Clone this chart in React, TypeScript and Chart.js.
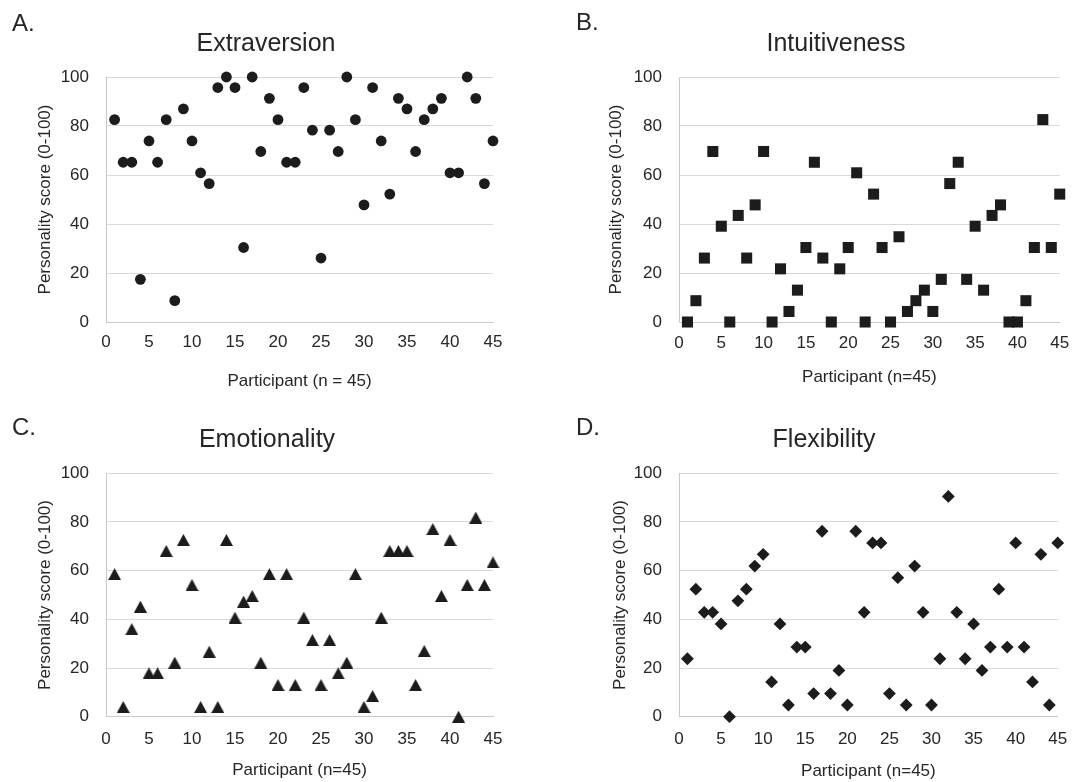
import React, { useEffect, useRef } from "react";
import { Chart, registerables } from "chart.js";

Chart.register(...registerables);

// ---------- DATA ----------
const participants = [
  1, 2, 3, 4, 5, 6, 7, 8, 9, 10, 11, 12, 13, 14, 15, 16, 17, 18, 19, 20, 21, 22,
  23, 24, 25, 26, 27, 28, 29, 30, 31, 32, 33, 34, 35, 36, 37, 38, 39, 40, 41,
  42, 43, 44, 45,
];

const extraversion = [
  82.6, 65.2, 65.2, 17.4, 73.9, 65.2, 82.6, 8.7, 87.0, 73.9, 60.9, 56.5, 95.7,
  100, 95.7, 30.4, 100, 69.6, 91.3, 82.6, 65.2, 65.2, 95.7, 78.3, 26.1, 78.3,
  69.6, 100, 82.6, 47.8, 95.7, 73.9, 52.2, 91.3, 87.0, 69.6, 82.6, 87.0, 91.3,
  60.9, 60.9, 100, 91.3, 56.5, 73.9,
];

const intuitiveness = [
  0, 8.7, 26.1, 69.6, 39.1, 0, 43.5, 26.1, 47.8, 69.6, 0, 21.7, 4.3, 13.0,
  30.4, 65.2, 26.1, 0, 21.7, 30.4, 60.9, 0, 52.2, 30.4, 0, 34.8, 4.3, 8.7,
  13.0, 4.3, 17.4, 56.5, 65.2, 17.4, 39.1, 13.0, 43.5, 47.8, 0, 0, 8.7, 30.4,
  82.6, 30.4, 52.2,
];

const emotionality = [
  58.6, 4.0, 36.0, 45.2, 17.8, 17.8, 68.1, 22.2, 72.6, 54.1, 4.0, 26.7, 4.0,
  72.6, 40.7, 47.3, 49.6, 22.2, 58.6, 13.0, 58.6, 13.0, 40.7, 31.5, 13.0, 31.5,
  17.8, 22.2, 58.6, 4.0, 8.5, 40.7, 68.1, 68.1, 68.1, 13.0, 27.0, 77.1, 49.6,
  72.6, 0, 54.1, 81.8, 54.1, 63.4,
];

const flexibility = [
  23.8, 52.4, 42.9, 42.9, 38.1, 0, 47.6, 52.4, 61.9, 66.7, 14.3, 38.1, 4.8,
  28.6, 28.6, 9.5, 76.2, 9.5, 19.0, 4.8, 76.2, 42.9, 71.4, 71.4, 9.5, 57.1, 4.8,
  61.9, 42.9, 4.8, 23.8, 90.5, 42.9, 23.8, 38.1, 19.0, 28.6, 52.4, 28.6, 71.4,
  28.6, 14.3, 66.7, 4.8, 71.4,
];

const xTicks = [0, 5, 10, 15, 20, 25, 30, 35, 40, 45];
const yTicks = [0, 20, 40, 60, 80, 100];
const yAxisTitle = "Personality score (0-100)";

// ---------- STYLE / LAYOUT ----------
const FONT = '"Liberation Sans", Arial, sans-serif';
const TEXT = "#262626";
const MARK = "#1c1c1c";
const GRID = "#d9d9d9";
const AXIS = "#c8c8c8";

function triangleImage(w: number, h: number, color: string) {
  const c = document.createElement("canvas");
  c.width = w;
  c.height = h;
  const g = c.getContext("2d")!;
  g.fillStyle = color;
  g.beginPath();
  g.moveTo(w / 2, 0);
  g.lineTo(w, h);
  g.lineTo(0, h);
  g.closePath();
  g.fill();
  return c;
}

type Panel = {
  letter: string;
  title: string;
  xTitle: string;
  values: number[];
  marker: string;
  radius: number;
  left: number;
  top: number;
  width: number;
  height: number;
  yAxisWidth: number;
  padRight: number;
  padTop: number;
  xAxisHeight: number;
  yTitlePad: number;
  xTickPad: number;
  xTitlePadBottom: number;
  letterX: number;
  letterY: number;
  titleX: number;
  titleY: number;
};

const panels: Panel[] = [
  {
    letter: "A.", title: "Extraversion", xTitle: "Participant (n = 45)",
    values: extraversion, marker: "circle", radius: 5.4,
    left: 0, top: 0, width: 540, height: 395,
    yAxisWidth: 106, padRight: 47, padTop: 77, xAxisHeight: 73,
    yTitlePad: 35, xTickPad: 10.5, xTitlePadBottom: 3.8,
    letterX: 12, letterY: 31, titleX: 266, titleY: 51,
  },
  {
    letter: "B.", title: "Intuitiveness", xTitle: "Participant (n=45)",
    values: intuitiveness, marker: "rect", radius: 7.8,
    left: 540, top: 0, width: 540, height: 395,
    yAxisWidth: 139, padRight: 13, padTop: 77, xAxisHeight: 73,
    yTitlePad: 66, xTickPad: 10.8, xTitlePadBottom: 7.8,
    letterX: 36, letterY: 30, titleX: 296, titleY: 51,
  },
  {
    letter: "C.", title: "Emotionality", xTitle: "Participant (n=45)",
    values: emotionality, marker: "triangle", radius: 7,
    left: 0, top: 395, width: 540, height: 387,
    yAxisWidth: 106, padRight: 47, padTop: 78.3, xAxisHeight: 65.3,
    yTitlePad: 35, xTickPad: 12.5, xTitlePadBottom: 1.8,
    letterX: 12, letterY: 40, titleX: 267, titleY: 52,
  },
  {
    letter: "D.", title: "Flexibility", xTitle: "Participant (n=45)",
    values: flexibility, marker: "rectRot", radius: 6.4,
    left: 540, top: 395, width: 540, height: 387,
    yAxisWidth: 139, padRight: 13, padTop: 78.3, xAxisHeight: 65.3,
    yTitlePad: 70, xTickPad: 12.8, xTitlePadBottom: 0.8,
    letterX: 36, letterY: 40, titleX: 284, titleY: 52,
  },
];

const panelText = {
  id: "panelText",
  afterDraw(chart: any, _args: any, opts: any) {
    const ctx = chart.ctx;
    ctx.save();
    ctx.fillStyle = TEXT;
    ctx.textBaseline = "alphabetic";
    ctx.font = `24px ${FONT}`;
    ctx.textAlign = "left";
    ctx.fillText(opts.letter, opts.letterX, opts.letterY);
    ctx.font = `25px ${FONT}`;
    ctx.textAlign = "center";
    ctx.fillText(opts.title, opts.titleX, opts.titleY);
    ctx.restore();
  },
};

function ScatterPanel({ p }: { p: Panel }) {
  const ref = useRef<HTMLCanvasElement | null>(null);
  useEffect(() => {
    if (!ref.current) return;
    const points = participants.map((x, i) => ({ x, y: p.values[i] }));
    const style: any =
      p.marker === "triangle" ? triangleImage(13, 12, MARK) : p.marker;
    const chart = new Chart(ref.current, {
      type: "scatter",
      data: {
        datasets: [
          {
            data: points,
            pointStyle: style,
            pointRadius: p.radius,
            pointHoverRadius: p.radius,
            pointBackgroundColor: MARK,
            pointBorderColor: MARK,
            pointBorderWidth: 0,
            clip: false as any,
          },
        ],
      },
      options: {
        responsive: false,
        animation: false,
        events: [],
        layout: {
          padding: { left: 0, right: p.padRight, top: p.padTop, bottom: 0 },
        },
        plugins: {
          legend: { display: false },
          tooltip: { enabled: false },
          title: { display: false },
          panelText: {
            letter: p.letter,
            title: p.title,
            letterX: p.letterX,
            letterY: p.letterY,
            titleX: p.titleX,
            titleY: p.titleY,
          },
        } as any,
        scales: {
          x: {
            type: "linear",
            min: xTicks[0],
            max: xTicks[xTicks.length - 1],
            afterBuildTicks: (scale: any) => {
              scale.ticks = xTicks.map((v) => ({ value: v }));
            },
            afterFit: (scale: any) => {
              scale.height = p.xAxisHeight;
            },
            grid: { display: false, drawTicks: false },
            border: { display: true, color: AXIS, width: 1 },
            ticks: {
              color: TEXT,
              padding: p.xTickPad,
              maxRotation: 0,
              autoSkip: false,
              font: { family: FONT, size: 17 },
            },
            title: {
              display: true,
              text: p.xTitle,
              color: TEXT,
              font: { family: FONT, size: 17 },
              padding: { top: 0, bottom: p.xTitlePadBottom },
            },
          },
          y: {
            type: "linear",
            min: yTicks[0],
            max: yTicks[yTicks.length - 1],
            afterBuildTicks: (scale: any) => {
              scale.ticks = yTicks.map((v) => ({ value: v }));
            },
            afterFit: (scale: any) => {
              scale.width = p.yAxisWidth;
            },
            grid: { display: true, color: GRID, lineWidth: 1, drawTicks: false },
            border: { display: true, color: AXIS, width: 1 },
            ticks: {
              color: TEXT,
              padding: 17,
              font: { family: FONT, size: 17 },
            },
            title: {
              display: true,
              text: yAxisTitle,
              color: TEXT,
              font: { family: FONT, size: 17 },
              padding: { top: p.yTitlePad, bottom: 0 },
            },
          },
        },
      },
      plugins: [panelText as any],
    });
    return () => chart.destroy();
  }, [p]);

  return (
    <div
      style={{
        position: "absolute",
        left: p.left,
        top: p.top,
        width: p.width,
        height: p.height,
      }}
    >
      <canvas
        ref={ref}
        width={p.width}
        height={p.height}
        style={{ width: p.width, height: p.height, display: "block" }}
      />
    </div>
  );
}

export default function App() {
  return (
    <div
      style={{
        position: "fixed",
        left: 0,
        top: 0,
        width: 1080,
        height: 782,
        background: "#ffffff",
        overflow: "hidden",
      }}
    >
      {panels.map((p) => (
        <ScatterPanel key={p.letter} p={p} />
      ))}
    </div>
  );
}
